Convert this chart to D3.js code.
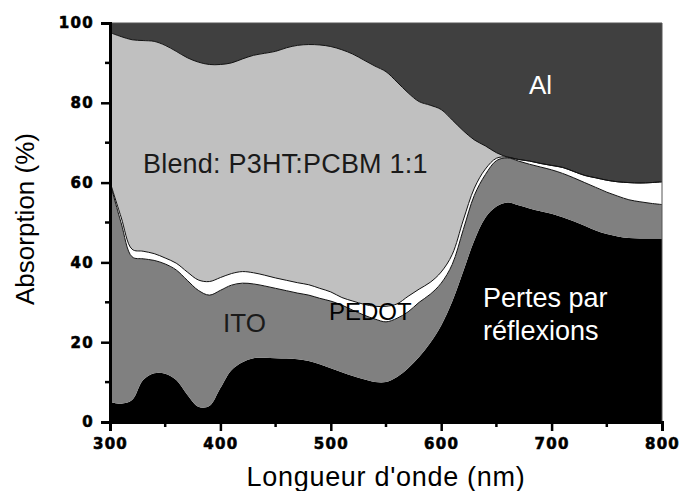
<!DOCTYPE html>
<html>
<head>
<meta charset="utf-8">
<script src="https://cdn.jsdelivr.net/npm/d3@7"></script>
<style>
  html, body { margin: 0; padding: 0; background: #fff; }
  svg { display: block; }
</style>
</head>
<body>
<svg id="chart" width="681" height="491"></svg>
<script>
// Wavelength grid (nm)
const wavelength = [300,310,320,330,340,350,360,370,380,390,400,410,420,430,440,450,460,470,480,490,
  500,510,520,530,540,550,560,570,580,590,600,610,620,630,640,650,660,670,680,690,
  700,710,720,730,740,750,760,770,780,790,800];

// Share of incident light (%) for each loss channel, stacked bottom to top
const reflexion = [5.1,4.6,5.5,10.5,12.2,12.1,10.5,6.8,3.8,4.0,8.5,13.0,15.0,16.0,16.1,16.0,15.9,15.7,15.3,14.5,
  13.5,12.5,11.5,10.7,10.0,10.0,11.3,13.5,16.3,19.8,24.2,30.2,37.8,45.5,51.2,54.0,55.0,54.3,53.5,52.8,
  52.2,51.3,50.3,49.2,48.0,47.1,46.5,46.1,46.0,46.0,46.0];
const ito = [54.9,45.4,35.9,30.4,28.3,27.5,27.6,28.7,29.2,27.8,24.5,21.3,19.8,18.6,18.0,17.5,17.0,16.6,16.5,16.5,
  16.8,16.8,16.5,16.1,15.8,15.1,14.7,14.1,13.7,12.2,10.6,9.3,10.4,11.3,10.8,11.5,11.2,11.1,11.1,11.1,
  11.0,11.0,10.9,10.8,10.8,10.5,10.1,9.6,9.2,8.8,8.5];
const pedot = [0.2,1.4,1.9,1.9,1.7,1.5,1.7,2.1,2.6,3.4,3.2,2.9,2.9,2.8,2.7,2.6,2.6,2.6,2.6,2.5,
  2.3,1.9,2.3,2.7,3.2,3.9,3.6,3.9,3.3,3.0,2.8,2.5,2.4,1.8,1.4,0.6,0.2,0.4,0.8,0.9,
  1.1,1.5,1.6,1.8,2.4,3.0,3.6,4.3,4.7,5.2,5.7];
const blend = [37.4,45.2,52.5,52.8,53.2,53.3,53.1,53.7,54.6,54.4,53.4,52.8,53.3,54.5,55.6,56.8,58.3,59.5,60.2,61.0,
  61.5,62.1,61.9,61.2,60.2,58.8,55.6,51.0,47.0,44.4,40.7,33.7,22.4,12.1,5.8,1.4,0,0,0,0,
  0,0,0,0,0,0,0,0,0,0,0];
const al = [2.4,3.4,4.2,4.4,4.6,5.6,7.1,8.7,9.8,10.4,10.4,10.0,9.0,8.1,7.6,7.1,6.2,5.6,5.4,5.5,
  5.9,6.7,7.8,9.3,10.8,12.2,14.8,17.5,19.7,20.6,21.7,24.3,27.0,29.3,30.8,32.5,33.6,34.2,34.6,35.2,
  35.7,36.2,37.2,38.2,38.8,39.4,39.8,40.0,40.1,40.0,39.8];

const xTicks = [300, 400, 500, 600, 700, 800];
const yTicks = [0, 20, 40, 60, 80, 100];

const layerKeys = ["reflexion", "ito", "pedot", "blend", "al"];
const layerFill = { reflexion: "#000000", ito: "#808080", pedot: "#ffffff", blend: "#c0c0c0", al: "#404040" };

const table = wavelength.map((w, i) => ({
  w, reflexion: reflexion[i], ito: ito[i], pedot: pedot[i], blend: blend[i], al: al[i]
}));

const W = 681, H = 491;
const margin = { left: 110, right: 19, top: 23, bottom: 69 };
const svg = d3.select("#chart");

const x = d3.scaleLinear().domain([300, 800]).range([margin.left, W - margin.right]);
const y = d3.scaleLinear().domain([0, 100]).range([H - margin.bottom, margin.top]);

svg.append("defs").append("clipPath").attr("id", "plotClip")
  .append("rect")
  .attr("x", x(300)).attr("y", y(100))
  .attr("width", x(800) - x(300)).attr("height", y(0) - y(100));

const series = d3.stack().keys(layerKeys)(table);
const curve = d3.curveCatmullRom.alpha(0.5);

const area = d3.area()
  .x(d => x(d.data.w))
  .y0(d => y(d[0]))
  .y1(d => y(d[1]))
  .curve(curve);

const plot = svg.append("g").attr("clip-path", "url(#plotClip)");

plot.selectAll("path.layer")
  .data(series)
  .join("path")
  .attr("class", "layer")
  .attr("fill", s => layerFill[s.key])
  .attr("d", area);

// thin outlines on the upper edge of the ITO, PEDOT and blend layers
const edge = d3.line()
  .x(d => x(d.data.w))
  .y(d => y(d[1]))
  .curve(curve);

plot.selectAll("path.edge")
  .data(series.filter(s => ["ito", "pedot", "blend"].includes(s.key)))
  .join("path")
  .attr("class", "edge")
  .attr("fill", "none")
  .attr("stroke", "#111")
  .attr("stroke-width", 1)
  .attr("d", edge);

// frame: thin top/right
svg.append("line")
  .attr("x1", x(300)).attr("x2", x(800)).attr("y1", y(100)).attr("y2", y(100))
  .attr("stroke", "#555").attr("stroke-width", 1);
svg.append("line")
  .attr("x1", x(800)).attr("x2", x(800)).attr("y1", y(100)).attr("y2", y(0))
  .attr("stroke", "#555").attr("stroke-width", 1);

const tickFont = "'DejaVu Sans', sans-serif";

// y axis
const yAxis = d3.axisLeft(y).tickValues(yTicks).tickSize(9).tickPadding(7).tickFormat(d3.format("d"));
const gy = svg.append("g").attr("transform", `translate(${x(300)},0)`).call(yAxis);
gy.selectAll(".tick line").attr("stroke", "#000").attr("stroke-width", 2.5);
gy.append("g").selectAll("line")
  .data(d3.range(10, 100, 20))
  .join("line")
  .attr("x1", -5).attr("x2", 0)
  .attr("y1", d => y(d)).attr("y2", d => y(d))
  .attr("stroke", "#000").attr("stroke-width", 2.5);

// x axis
const xAxis = d3.axisBottom(x).tickValues(xTicks).tickSize(9).tickPadding(7).tickFormat(d3.format("d"));
const gx = svg.append("g").attr("transform", `translate(0,${y(0)})`).call(xAxis);
gx.selectAll(".tick line").attr("stroke", "#000").attr("stroke-width", 2.5);
gx.append("g").selectAll("line")
  .data(d3.range(350, 800, 100))
  .join("line")
  .attr("x1", d => x(d)).attr("x2", d => x(d))
  .attr("y1", 0).attr("y2", 5)
  .attr("stroke", "#000").attr("stroke-width", 2.5);

[gx, gy].forEach(g => {
  g.select(".domain").attr("stroke", "#000").attr("stroke-width", 3);
  g.selectAll(".tick text")
    .attr("fill", "#000")
    .attr("stroke", "#000")
    .attr("stroke-width", 0.6)
    .style("font-family", tickFont)
    .style("font-weight", "bold")
    .style("font-size", "15px")
    .style("letter-spacing", "1.3px");
});

const labelFont = "'Liberation Sans', Arial, sans-serif";

// axis titles
svg.append("text")
  .attr("x", (x(300) + x(800)) / 2).attr("y", 486)
  .attr("text-anchor", "middle")
  .style("font-family", labelFont).style("font-size", "27px")
  .style("letter-spacing", "0.7px")
  .attr("fill", "#000")
  .text("Longueur d'onde (nm)");

svg.append("text")
  .attr("transform", `translate(34,219) rotate(-90)`)
  .attr("text-anchor", "middle")
  .style("font-family", labelFont).style("font-size", "26px")
  .attr("fill", "#000")
  .text("Absorption (%)");

// layer annotations
const notes = [
  { text: "Blend: P3HT:PCBM 1:1", x: 143, y: 173, fill: "#1a1a1a", size: 27, ls: 0.2 },
  { text: "Al", x: 529, y: 94, fill: "#ffffff", size: 26, ls: 0 },
  { text: "ITO", x: 223, y: 332, fill: "#1a1a1a", size: 26, ls: 0 },
  { text: "PEDOT", x: 329, y: 320, fill: "#000000", size: 24, ls: 0 },
  { text: "Pertes par", x: 483, y: 307, fill: "#ffffff", size: 27, ls: 0 },
  { text: "réflexions", x: 483, y: 340, fill: "#ffffff", size: 27, ls: 0 }
];
svg.append("g").selectAll("text")
  .data(notes)
  .join("text")
  .attr("x", d => d.x).attr("y", d => d.y)
  .style("font-family", labelFont)
  .style("font-size", d => d.size + "px")
  .style("letter-spacing", d => d.ls + "px")
  .attr("fill", d => d.fill)
  .text(d => d.text);
</script>
</body>
</html>
